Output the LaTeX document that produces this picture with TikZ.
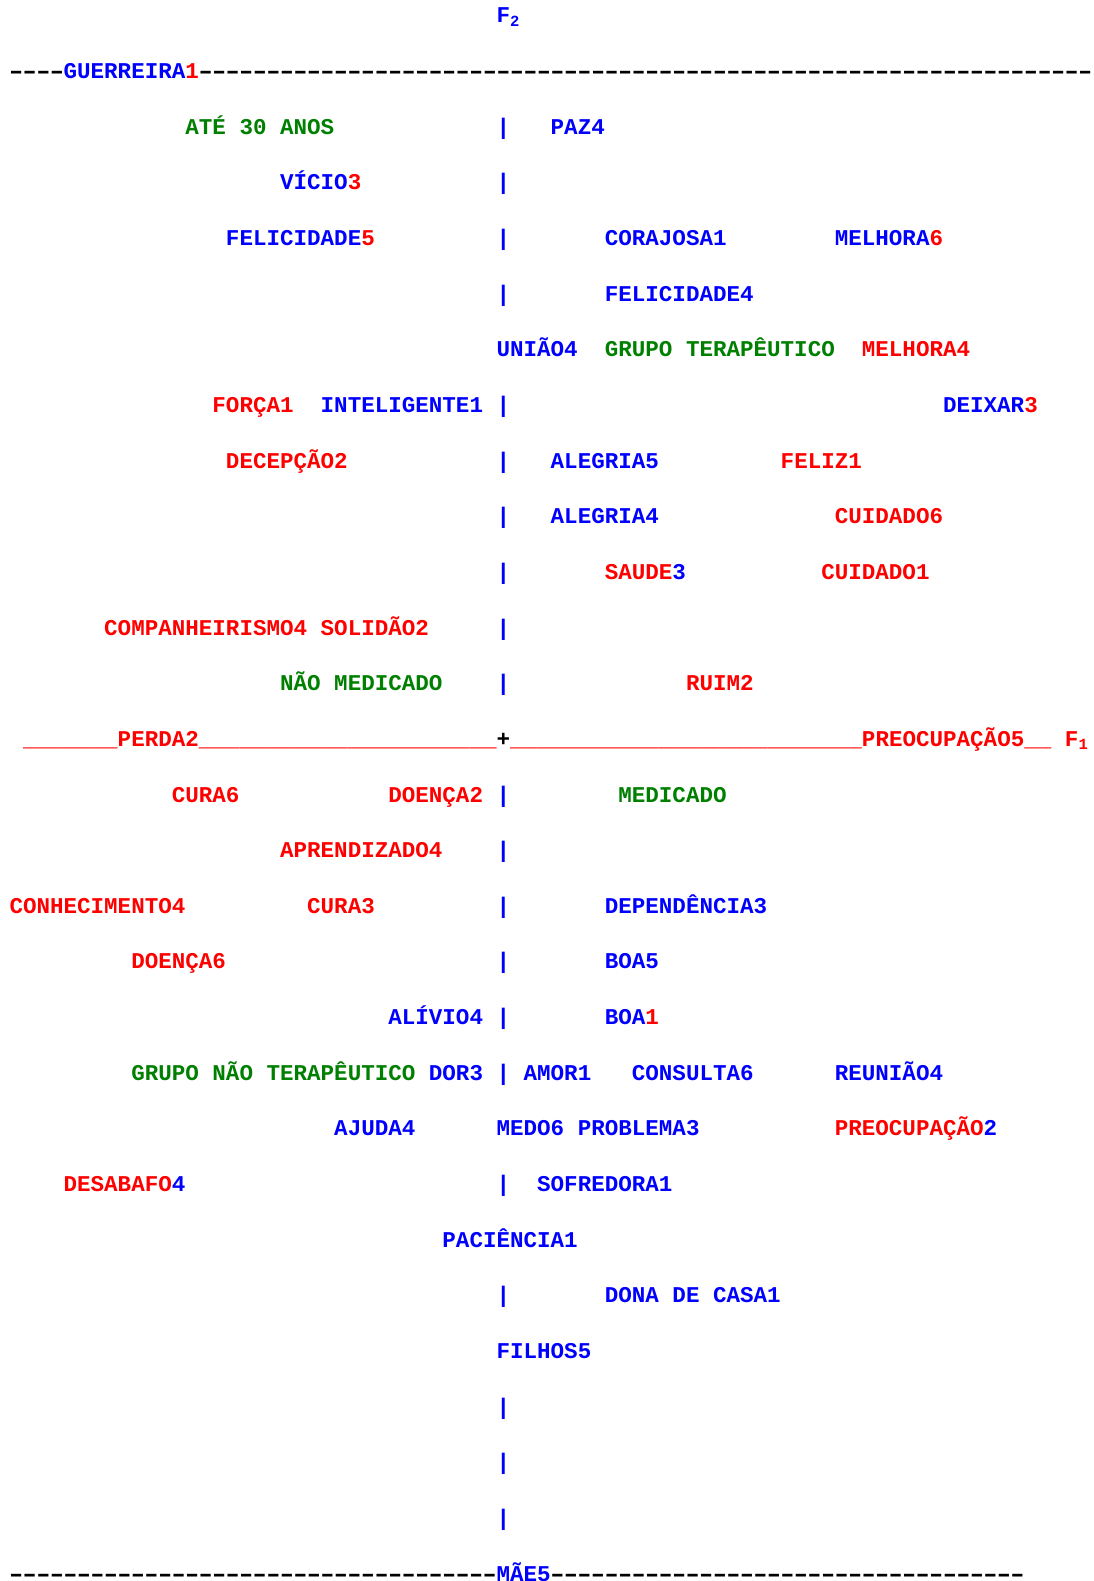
\documentclass[tikz,border=0pt]{standalone}
\usepackage{fontspec}
\setmonofont{Liberation Mono}
\usepackage{xcolor}
\usepackage{graphicx}
\definecolor{cb}{RGB}{0,0,255}
\definecolor{cr}{RGB}{255,0,0}
\definecolor{cg}{RGB}{0,128,0}
\ExplSyntaxOn
\cs_new:Npn \Rep #1#2 { \prg_replicate:nn {#1} {#2} }
\ExplSyntaxOff
\newcommand\Bl[1]{\textcolor{cb}{#1}}
\newcommand\Rd[1]{\textcolor{cr}{#1}}
\newcommand\Gr[1]{\textcolor{cg}{#1}}
\newcommand\Sb[1]{\raisebox{-3.5pt}{\fontsize{15.5}{16}\selectfont #1}}
\newcommand\Dsh{\makebox[0.6em][c]{\scalebox{1.6}[1]{-}}}
\tikzset{lab/.style={anchor=base west, inner sep=0pt, outer sep=0pt,
  font=\ttfamily\bfseries\fontsize{22.55}{26}\selectfont}}
\newcommand\T[4]{\node[lab] (#1) at ({9.5+13.53*#2},{22.9+55.65*#3}) {#4};}
\newcommand\V[2]{\T{#1}{36}{#2}{\Bl{|}}}
\begin{document}
\begin{tikzpicture}[x=1pt,y=-1pt]
\fill[white] (0,0) rectangle (1094,1581);
\useasboundingbox (0,0) rectangle (1094,1581);
% row 0
\T{ftwo}{36}{0}{\Bl{F\Sb{2}}}
% row 1
\T{topline}{0}{1}{\Rep{4}{\Dsh}\Bl{GUERREIRA}\Rd{1}\Rep{66}{\Dsh}}
% row 2
\T{ate}{13}{2}{\Gr{ATÉ 30 ANOS}}
\V{va}{2}
\T{paz}{40}{2}{\Bl{PAZ4}}
% row 3
\T{vicio}{20}{3}{\Bl{VÍCIO}\Rd{3}}
\V{vb}{3}
% row 4
\T{felc}{16}{4}{\Bl{FELICIDADE}\Rd{5}}
\V{vc}{4}
\T{coraj}{44}{4}{\Bl{CORAJOSA1}}
\T{melhs}{61}{4}{\Bl{MELHORA}\Rd{6}}
% row 5
\V{vd}{5}
\T{feld}{44}{5}{\Bl{FELICIDADE4}}
% row 6
\T{uniao}{36}{6}{\Bl{UNIÃO4}}
\T{grupo}{44}{6}{\Gr{GRUPO TERAPÊUTICO}}
\T{melhq}{63}{6}{\Rd{MELHORA4}}
% row 7
\T{forca}{15}{7}{\Rd{FORÇA1}}
\T{intel}{23}{7}{\Bl{INTELIGENTE1}}
\V{ve}{7}
\T{deixar}{69}{7}{\Bl{DEIXAR}\Rd{3}}
% row 8
\T{decep}{16}{8}{\Rd{DECEPÇÃO2}}
\V{vf}{8}
\T{alegc}{40}{8}{\Bl{ALEGRIA5}}
\T{feliz}{57}{8}{\Rd{FELIZ1}}
% row 9
\V{vg}{9}
\T{alegq}{40}{9}{\Bl{ALEGRIA4}}
\T{cuids}{61}{9}{\Rd{CUIDADO6}}
% row 10
\V{vh}{10}
\T{saude}{44}{10}{\Rd{SAUDE}\Bl{3}}
\T{cuidu}{60}{10}{\Rd{CUIDADO1}}
% row 11
\T{comp}{7}{11}{\Rd{COMPANHEIRISMO4}}
\T{solid}{23}{11}{\Rd{SOLIDÃO2}}
\V{vi}{11}
% row 12
\T{naomed}{20}{12}{\Gr{NÃO MEDICADO}}
\V{vj}{12}
\T{ruim}{50}{12}{\Rd{RUIM2}}
% row 13
\T{axis}{1}{13}{\Rd{\Rep{7}{\_}PERDA2\Rep{22}{\_}}+\Rd{\Rep{26}{\_}PREOCUPAÇÃO5\_\_ F\Sb{1}}}
% row 14
\T{curas}{12}{14}{\Rd{CURA6}}
\T{doencad}{28}{14}{\Rd{DOENÇA2}}
\V{vk}{14}
\T{medic}{45}{14}{\Gr{MEDICADO}}
% row 15
\T{aprend}{20}{15}{\Rd{APRENDIZADO4}}
\V{vl}{15}
% row 16
\T{conhec}{0}{16}{\Rd{CONHECIMENTO4}}
\T{curat}{22}{16}{\Rd{CURA3}}
\V{vm}{16}
\T{depend}{44}{16}{\Bl{DEPENDÊNCIA3}}
% row 17
\T{doencas}{9}{17}{\Rd{DOENÇA6}}
\V{vn}{17}
\T{boac}{44}{17}{\Bl{BOA5}}
% row 18
\T{alivio}{28}{18}{\Bl{ALÍVIO4}}
\V{vo}{18}
\T{boau}{44}{18}{\Bl{BOA}\Rd{1}}
% row 19
\T{gnt}{9}{19}{\Gr{GRUPO NÃO TERAPÊUTICO}}
\T{dor}{31}{19}{\Bl{DOR3}}
\V{vp}{19}
\T{amor}{38}{19}{\Bl{AMOR1}}
\T{consul}{46}{19}{\Bl{CONSULTA6}}
\T{reun}{61}{19}{\Bl{REUNIÃO4}}
% row 20
\T{ajuda}{24}{20}{\Bl{AJUDA4}}
\T{medo}{36}{20}{\Bl{MEDO6}}
\T{probl}{42}{20}{\Bl{PROBLEMA3}}
\T{preocd}{61}{20}{\Rd{PREOCUPAÇÃO}\Bl{2}}
% row 21
\T{desab}{4}{21}{\Rd{DESABAFO}\Bl{4}}
\V{vq}{21}
\T{sofr}{39}{21}{\Bl{SOFREDORA1}}
% row 22
\T{pacien}{32}{22}{\Bl{PACIÊNCIA1}}
% row 23
\V{vr}{23}
\T{dona}{44}{23}{\Bl{DONA DE CASA1}}
% row 24
\T{filhos}{36}{24}{\Bl{FILHOS5}}
% rows 25-27
\V{vs}{25}
\V{vt}{26}
\V{vu}{27}
% row 28
\T{bottomline}{0}{28}{\Rep{36}{\Dsh}\Bl{MÃE5}\Rep{35}{\Dsh}}
\end{tikzpicture}
\end{document}
